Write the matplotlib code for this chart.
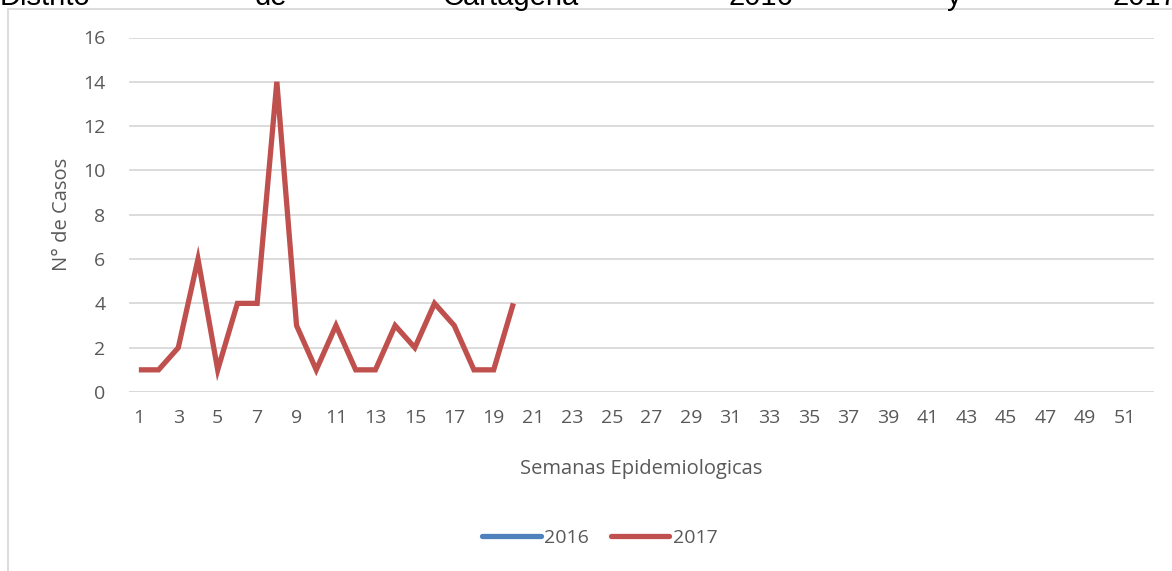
import numpy as np
import matplotlib
matplotlib.use('Agg')
import matplotlib.pyplot as plt
from matplotlib.patches import Rectangle

# weekly cases, 2016 series has no values in the source chart
semanas = np.arange(1, 53)
casos_2017 = [1, 1, 2, 6, 1, 4, 4, 14, 3, 1, 3, 1, 1, 3, 2, 4, 3, 1, 1, 4]
casos_2016 = []
tick_labels = [str(s) for s in range(1, 53, 2)]
title_words = ['Distrito', 'de', 'Cartagena', '2016', 'y', '2017']
title_x = [0, 255, 442, 728, 947, 1113]

W, H = 1172, 571
fig = plt.figure(figsize=(W / 100, H / 100), dpi=100)
plt.rcParams['font.family'] = ['Open Sans', 'DejaVu Sans']

ax = fig.add_axes([129 / W, 1 - 392 / H, (1154 - 129) / W, (392 - 37.5) / H])

gray = '#595959'
ax.plot(semanas[:len(casos_2016)], casos_2016, color='#4F81BD', lw=3.8,
        solid_capstyle='round', label='2016')
ax.plot(semanas[:len(casos_2017)], casos_2017, color='#C0504D', lw=3.8,
        solid_joinstyle='miter', solid_capstyle='butt', label='2017')

ax.set_xlim(0.5, 52.5)
ax.set_ylim(0, 16)
ax.set_yticks(range(0, 17, 2))
ax.set_xticks(range(1, 53, 2))
ax.set_xticklabels(tick_labels)
ax.tick_params(length=0, labelsize=14, colors=gray, pad=12)
ax.tick_params(axis='y', pad=17)
ax.grid(axis='y', color='#D9D9D9', lw=1.3)
ax.set_axisbelow(True)
for s in ax.spines.values():
    s.set_visible(False)
ax.axhline(0, color='#D9D9D9', lw=1.3, zorder=0)

ax.set_xlabel('Semanas Epidemiologicas', fontsize=14.5, color=gray, labelpad=23)
ax.set_ylabel('N° de Casos', fontsize=14.5, color=gray, labelpad=8)

leg = fig.legend(loc='center', bbox_to_anchor=(600 / W, 1 - 538 / H), ncol=2,
                 frameon=False, fontsize=14, handlelength=3.0, columnspacing=1.1,
                 handletextpad=0.2, labelcolor=gray)
for h in leg.get_lines():
    h.set_solid_capstyle('round')

# chart border (cut at the right and bottom edges)
fig.patches.append(Rectangle((8 / W, -0.1), 1.2, 1 - 8.5 / H + 0.1,
                             transform=fig.transFigure, fill=False,
                             edgecolor='#D9D9D9', lw=1.3))

# justified title line, cropped at the top of the picture
for word, x in zip(title_words, title_x):
    fig.text(x / W, 1 - 5 / H, word, fontsize=21, family='Liberation Sans',
             color='black', va='baseline', ha='left')

fig.savefig('out.png', dpi=100)
